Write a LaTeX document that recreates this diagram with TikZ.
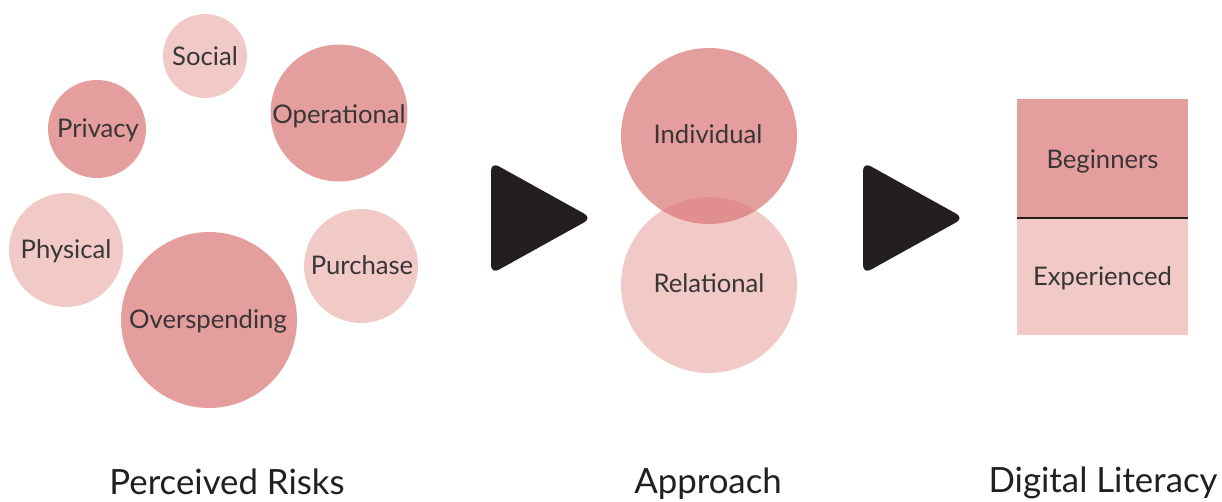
\documentclass[tikz,border=0pt]{standalone}
\usepackage{fontspec}
\setmainfont{Lato}
\definecolor{riskdark}{HTML}{E59E9E}
\definecolor{risklight}{HTML}{F1CAC8}
\definecolor{indiv}{RGB}{219,120,120}
\definecolor{ink}{HTML}{231F20}
\tikzset{
	blob/.style={circle,inner sep=0pt,draw=none},
	lbl/.style={anchor=base,text=ink!90,font=\fontsize{14.6}{17}\selectfont},
	ttl/.style={anchor=base,inner sep=0pt,text=ink,font=\fontsize{19.8}{24}\selectfont},
	play/.style={fill=ink,rounded corners=5pt},
}
\begin{document}
\begin{tikzpicture}[x=0.02cm,y=-0.02cm]
	\useasboundingbox (0,0) rectangle (1222,501);
	\node[blob,fill=risklight,minimum size=1.68cm] (social) at (205,56) {};
	\node[blob,fill=riskdark,minimum size=1.96cm] (privacy) at (97,129) {};
	\node[blob,fill=riskdark,minimum size=2.74cm] (operational) at (339,113) {};
	\node[blob,fill=risklight,minimum size=2.28cm] (physical) at (66,250) {};
	\node[blob,fill=risklight,minimum size=2.28cm] (purchase) at (361,266) {};
	\node[blob,fill=riskdark,minimum size=3.52cm] (overspending) at (209,320) {};
	\node[lbl] (tsocial) at (205,65) {Social};
	\node[lbl] (tprivacy) at (98,137) {Privacy};
	\node[lbl] (toperational) at (339,123) {Operational};
	\node[lbl] (tphysical) at (66,258) {Physical};
	\node[lbl] (tpurchase) at (362,274) {Purchase};
	\node[lbl] (toverspending) at (208,328) {Overspending};
	\fill[play] (491,162)--(592,218)--(491,274)--cycle;
	\node[blob,fill=risklight,minimum size=3.52cm] (relational) at (709,285) {};
	\node[blob,fill=indiv,fill opacity=0.72,minimum size=3.52cm] (individual) at (709,136) {};
	\node[lbl] (tindividual) at (708,143) {Individual};
	\node[lbl] (trelational) at (709,292) {Relational};
	\fill[play] (863,162)--(964,218)--(863,274)--cycle;
	\node[rectangle,inner sep=0pt,fill=riskdark,minimum width=3.42cm,minimum height=2.38cm] (beg) at (1102.5,158.5) {};
	\node[rectangle,inner sep=0pt,fill=risklight,minimum width=3.42cm,minimum height=2.34cm] (exp) at (1102.5,276.5) {};
	\draw[ink,line width=1.1pt] (beg.south west)--(beg.south east);
	\node[lbl] (tbeg) at (1102.5,168) {Beginners};
	\node[lbl] (texp) at (1102.5,285) {Experienced};
	\node[ttl] (risks) at (227,494) {Perceived Risks};
	\node[ttl] (approach) at (708,493) {Approach};
	\node[ttl] (literacy) at (1103,492) {Digital Literacy};
\end{tikzpicture}
\end{document}
